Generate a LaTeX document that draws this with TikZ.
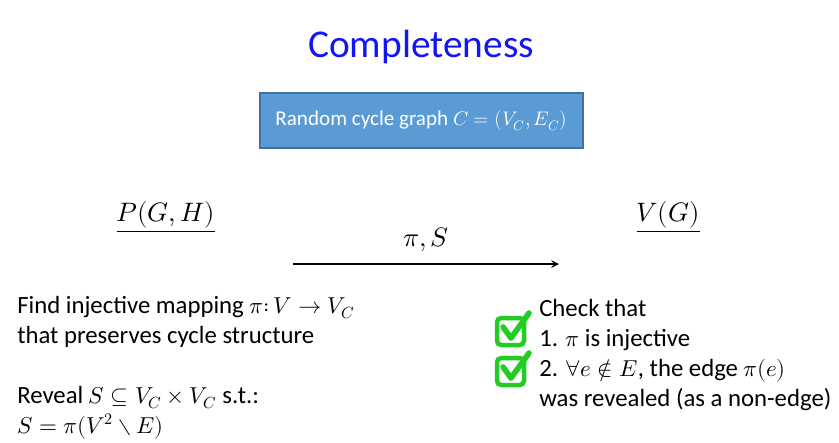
\documentclass[tikz,border=0pt]{standalone}
\usepackage{fontspec}
\usepackage{unicode-math}
\setmainfont{Carlito}
\setmathfont[Scale=0.93]{Latin Modern Math}
\usetikzlibrary{positioning}

\definecolor{titleblue}{RGB}{20,20,250}
\definecolor{boxfill}{RGB}{91,155,213}
\definecolor{boxline}{RGB}{65,113,156}
\definecolor{checkgreen}{RGB}{34,204,34}

\tikzset{
  body/.style={anchor=base west, inner sep=0pt, font=\fontsize{17.6}{21}\selectfont},
  party/.style={anchor=base, inner sep=0pt, font=\fontsize{20.4}{24}\selectfont},
  tickbox/.style={draw=checkgreen, line width=3.2pt, rounded corners=3pt},
  tick/.style={draw=checkgreen, line width=4pt, line cap=round, line join=round}
}

\begin{document}
\begin{tikzpicture}[x=0.025cm, y=-0.025cm, >=stealth]
    \useasboundingbox (0,0) rectangle (839,442);

    % Titel
    \node [anchor=base, inner sep=0pt, text=titleblue, font=\fontsize{28}{32}\selectfont] (title) at (421,57) {Completeness};

    % Kasten
    \node [fill=boxfill, draw=boxline, line width=0.8pt, text=white, minimum width=323*0.025cm, minimum height=55*0.025cm,
           font=\fontsize{15}{18}\selectfont] (cyclebox) at (421.5,120.5) {Random cycle graph $C=(V_C,E_C)$};

    % Parteien
    \node [party] (prover) at (166,221) {\underline{$P(G,H)$}};
    \node [party] (verifier) at (668,221) {\underline{$V(G)$}};

    % Nachricht
    \coordinate (sendfrom) at (293,264);
    \coordinate (sendto) at (559,264);
    \draw [->, line width=1.4pt] (sendfrom) -- (sendto) node [midway, above=5pt, font=\fontsize{20.4}{24}\selectfont] (msg) {$\pi,S$};

    % Beweiser
    \node [body] (find) at (17,313) {Find injective mapping $\pi{:}\,V\rightarrow V_C$};
    \node [body] (keep) at (17,343) {that preserves cycle structure};
    \node [body] (reveal) at (17,403) {Reveal $S\subseteq V_C\times V_C$ s.t.:};
    \node [body] (sdef) at (17,433) {$S=\pi(V^2\setminus E)$};

    % Verifizierer
    \node [body] (check) at (539,316) {Check that};
    \node [body] (inj) at (539,346) {1. $\pi$ is injective};
    \node [body] (nonedge) at (539,376) {2. $\forall e\notin E$, the edge $\pi(e)$};
    \node [body] (revealed) at (539,406) {was revealed (as a non-edge)};

    % Haken
    \draw [tickbox] (497,318) rectangle (524,345);
    \draw [tick] (503,327) -- (511,338) -- (529,313);
    \draw [tickbox] (497,358) rectangle (524,385);
    \draw [tick] (503,367) -- (511,378) -- (529,353);
\end{tikzpicture}
\end{document}
